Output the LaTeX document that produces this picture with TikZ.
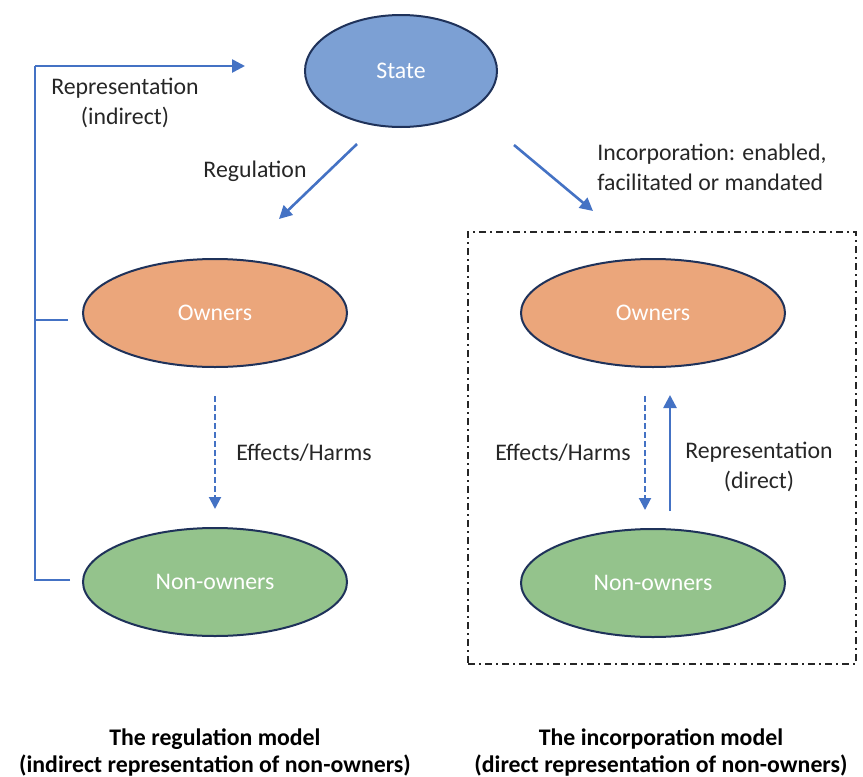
\documentclass[tikz,border=0pt]{standalone}
\usepackage{fontspec}
\setmainfont{Carlito}
\usepackage{tikz}
\usetikzlibrary{arrows,arrows.meta,shapes.geometric,positioning,calc}
\definecolor{rpblue}{RGB}{68,114,196}
\definecolor{rpnavy}{RGB}{31,50,90}
\definecolor{rpstate}{RGB}{124,160,212}
\definecolor{rporange}{RGB}{235,166,123}
\definecolor{rpgreen}{RGB}{148,195,140}
\definecolor{rptext}{RGB}{38,38,38}
\tikzstyle{arrow} = [line width=1.3pt,->,>={Triangle[length=6.5pt,width=6.5pt]},color=rpblue]
\tikzstyle{dasharrow} = [line width=1pt,->,>={Triangle[length=6pt,width=6pt]},color=rpblue,dash pattern=on 3pt off 1.5pt]
\tikzstyle{actor} = [ellipse, draw=rpnavy, line width=1pt, inner sep=0pt, minimum width=132pt, minimum height=54pt, text=white, font=\fontsize{11.9}{14}\selectfont]
\tikzstyle{label} = [font=\fontsize{11.9}{15}\selectfont, text=rptext, align=center, inner sep=0pt]

\begin{document}
\begin{tikzpicture}[x=0.5pt, y=-0.5pt]
    \useasboundingbox (0,0) rectangle (863,777);

    % State
    \node[actor, fill=rpstate, minimum width=96pt, minimum height=56pt] (state) at (401,71) {State};

    % Regulation model
    \node[actor, fill=rporange] (ownL) at (215,313) {Owners};
    \node[actor, fill=rpgreen] (nonL) at (215,582) {Non-owners};

    % Incorporation model
    \node[actor, fill=rporange] (ownR) at (653,313) {Owners};
    \node[actor, fill=rpgreen] (nonR) at (653,583) {Non-owners};

    % dash-dot frame
    \node[draw=rptext, line width=1pt, dash pattern=on 3.5pt off 2pt on 1pt off 2pt, minimum width=194pt, minimum height=216pt, inner sep=0pt] (frame) at (662,448) {};

    % Indirect representation bracket
    \coordinate (brTop) at (35,66);
    \coordinate (brMid) at (35,320);
    \coordinate (brBot) at (35,580);
    \coordinate (brEnd) at (245,66);
    \coordinate (stubMid) at (68,320);
    \coordinate (stubBot) at (70,580);
    \draw[rpblue, line width=1.3pt] (stubBot) -- (brBot) -- (brTop);
    \draw[rpblue, line width=1.3pt] (stubMid) -- (brMid);
    \draw[arrow] (brTop) -- (brEnd);
    \node[label] (repInd) at (125,103) {Representation\\(indirect)};

    % Regulation / Incorporation
    \coordinate (regA) at (357,144);
    \coordinate (regB) at (279,219);
    \coordinate (incA) at (514,145);
    \coordinate (incB) at (593,211);
    \draw[arrow] (regA) -- (regB);
    \draw[arrow] (incA) -- (incB);
    \node[label] (regLbl) at (255,171) {Regulation};
    \node[label, align=left, anchor=west] (incLbl) at (597,167) {Incorporation: enabled,\\facilitated or mandated};

    % Effects and direct representation
    \draw[dasharrow] ($(ownL.south)+(0,28)$) -- ($(nonL.north)+(0,-18)$);
    \node[label] (effL) at (304,453) {Effects/Harms};
    \draw[dasharrow] ($(ownR.south)+(-8,28)$) -- ($(nonR.north)+(-8,-18)$);
    \node[label] (effR) at (563,453) {Effects/Harms};
    \draw[arrow] ($(nonR.north)+(17,-17)$) -- ($(ownR.south)+(17,27)$);
    \node[label] (repDir) at (759,467) {Representation\\(direct)};

    % Titles
    \node[label, font=\fontsize{11.9}{13.5}\selectfont\bfseries, text=black] (titleL) at (215,752) {The regulation model\\(indirect representation of non-owners)};
    \node[label, font=\fontsize{11.9}{13.5}\selectfont\bfseries, text=black] (titleR) at (661,752) {The incorporation model\\(direct representation of non-owners)};
\end{tikzpicture}
\end{document}
